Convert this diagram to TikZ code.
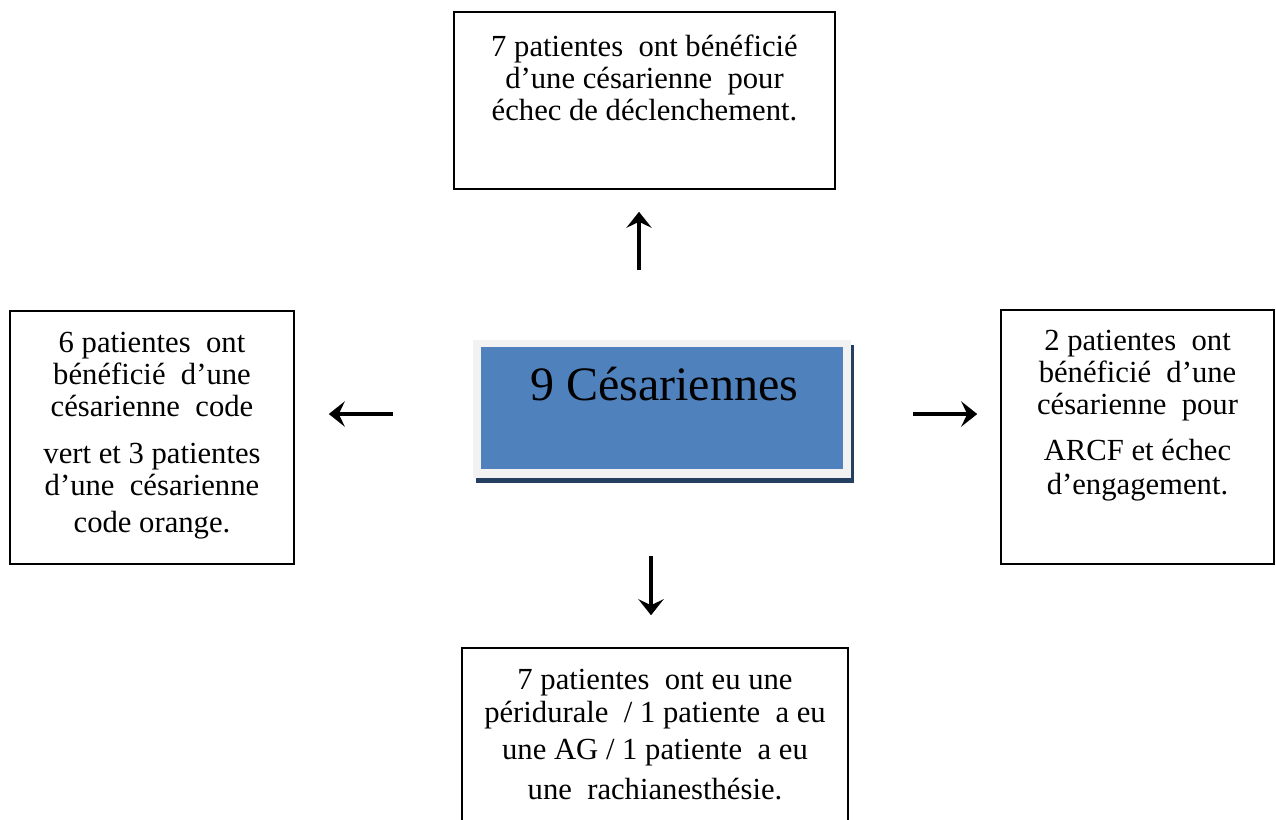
\documentclass[tikz,border=0pt]{standalone}
\usepackage{fontspec}
\setmainfont{Liberation Serif}
\usetikzlibrary{arrows.meta,shadows}
\definecolor{boxblue}{HTML}{4F81BD}
\definecolor{boxgray}{HTML}{F2F2F2}
\definecolor{shadowblue}{HTML}{243F60}
\begin{document}
\begin{tikzpicture}[x=0.75pt,y=-0.75pt,
  infobox/.style={draw=black, line width=1.2pt, rectangle, inner sep=0pt},
  infotext/.style={align=center, inner sep=0pt, anchor=north},
  arr/.style={line width=2.3pt, -{Stealth[length=12pt,width=19pt,inset=4.5pt]}}]
\useasboundingbox (0,0) rectangle (1276,819);

% boxes
\node[infobox, minimum width=285.75pt, minimum height=132.75pt] (top) at (644.5,100.5) {};
\node[infobox, minimum width=213pt, minimum height=189.75pt] (left) at (152,437.5) {};
\node[infobox, minimum width=204.75pt, minimum height=190.5pt] (right) at (1137.5,437) {};
\node[infobox, minimum width=289.5pt, minimum height=159pt] (bottom) at (655,754) {};

% texts
\node[infotext, font=\fontsize{23}{24}\selectfont] (toptext) at ([yshift=-15.75pt]top.north)
  {\rule{0pt}{18pt}7 patientes\ \ ont bénéficié\\ d’une césarienne\ \ pour\\ échec de déclenchement.};
\node[infotext, font=\fontsize{23}{24}\selectfont] (lefttext) at ([yshift=-13.5pt]left.north)
  {\rule{0pt}{18pt}6 patientes\ \ ont\\ bénéficié\ \ d’une\\ césarienne\ \ code\\[11.25pt] vert et 3 patientes\\ d’une\ \ césarienne\\[3.5pt] code orange.};
\node[infotext, font=\fontsize{23}{24}\selectfont] (righttext) at ([yshift=-12.75pt]right.north)
  {\rule{0pt}{18pt}2 patientes\ \ ont\\ bénéficié\ \ d’une\\ césarienne\ \ pour\\[10.5pt] ARCF et échec\\[1.5pt] d’engagement.};
\node[infotext, font=\fontsize{23}{25}\selectfont] (bottomtext) at ([yshift=-13.5pt]bottom.north)
  {\rule{0pt}{18pt}7 patientes\ \ ont eu une\\ péridurale\ \ / 1 patiente\ \ a eu\\[2.25pt] une AG / 1 patiente\ \ a eu\\[5pt] une\ \ rachianesthésie.};

% central box
\node[fill=boxgray, minimum width=283.5pt, minimum height=103.5pt, inner sep=0pt,
  drop shadow={shadow xshift=2.25pt, shadow yshift=-3.75pt, fill=shadowblue, opacity=1}] (c) at (662,409) {};
\node[fill=boxblue, minimum width=271.5pt, minimum height=91.5pt, inner sep=0pt] (cin) at ([yshift=0.75pt]c.center) {};
\node[anchor=base, inner sep=0pt, font=\fontsize{36}{40}\selectfont] (ctext) at (664,400) {9 Césariennes};

% arrows
\coordinate (ux) at (639,0);
\coordinate (dx) at (651,0);
\coordinate (hy) at (0,414);
\draw[arr, shorten <=52.5pt, shorten >=16.5pt] (c.north -| ux) -- (top.south -| ux);
\draw[arr, shorten <=58.5pt, shorten >=24pt] (c.south -| dx) -- (bottom.north -| dx);
\draw[arr, shorten <=60pt, shorten >=25.5pt] (c.west |- hy) -- (left.east |- hy);
\draw[arr, shorten <=46.5pt, shorten >=17.25pt] (c.east |- hy) -- (right.west |- hy);
\end{tikzpicture}
\end{document}
